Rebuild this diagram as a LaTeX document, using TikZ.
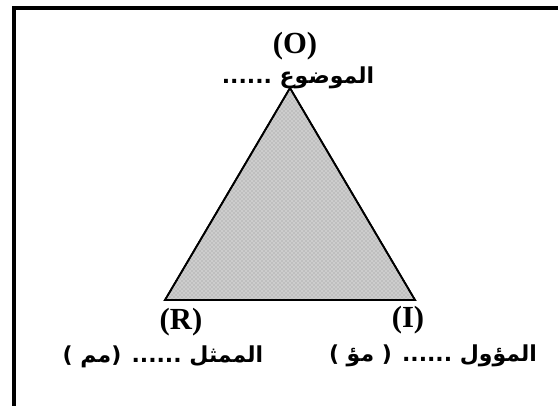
\documentclass[tikz,border=0pt]{standalone}
\usepackage{fontspec}
\setmainfont{Liberation Serif}
\newfontfamily\arabicfont[Script=Arabic]{DejaVu Sans}
\TeXXeTstate=1
\usetikzlibrary{patterns}
\begin{document}
\begin{tikzpicture}[x=0.75pt,y=-0.75pt,
  lat/.style={font=\fontsize{23}{26}\selectfont\bfseries, inner sep=0pt},
  arb/.style={font=\arabicfont\fontsize{16.5}{20}\selectfont\bfseries, inner sep=0pt},
  frame/.style={line width=2.4pt},
  tri/.style={line width=1.3pt, fill=gray!50}]
\useasboundingbox (0,0) rectangle (558,405);
\coordinate (fb) at (14,410);
\coordinate (fc) at (14,8);
\coordinate (fr) at (562,8);
\draw[frame] (fb) -- (fc) -- (fr);
\coordinate (O) at (290,88);
\coordinate (R) at (165,300);
\coordinate (I) at (415,300);
\filldraw[tri] (O) -- (R) -- (I) -- cycle;
\fill[pattern=crosshatch dots, pattern color=white] (O) -- (R) -- (I) -- cycle;
\draw[line width=1.3pt, line join=miter] (O) -- (R) -- (I) -- cycle;
\node[lat] (lo) at (295,46) {(O)};
\node[arb] (ao) at (298,78) {\beginR الموضوع ......\endR};
\node[lat] (lr) at (181,322) {(R)};
\node[arb] (ar) at (163,357) {\beginR الممثل ...... (مم )\endR};
\node[lat] (li) at (408,320) {(I)};
\node[arb] (ai) at (433,356) {\beginR المؤول ...... ( مؤ )\endR};
\end{tikzpicture}
\end{document}
